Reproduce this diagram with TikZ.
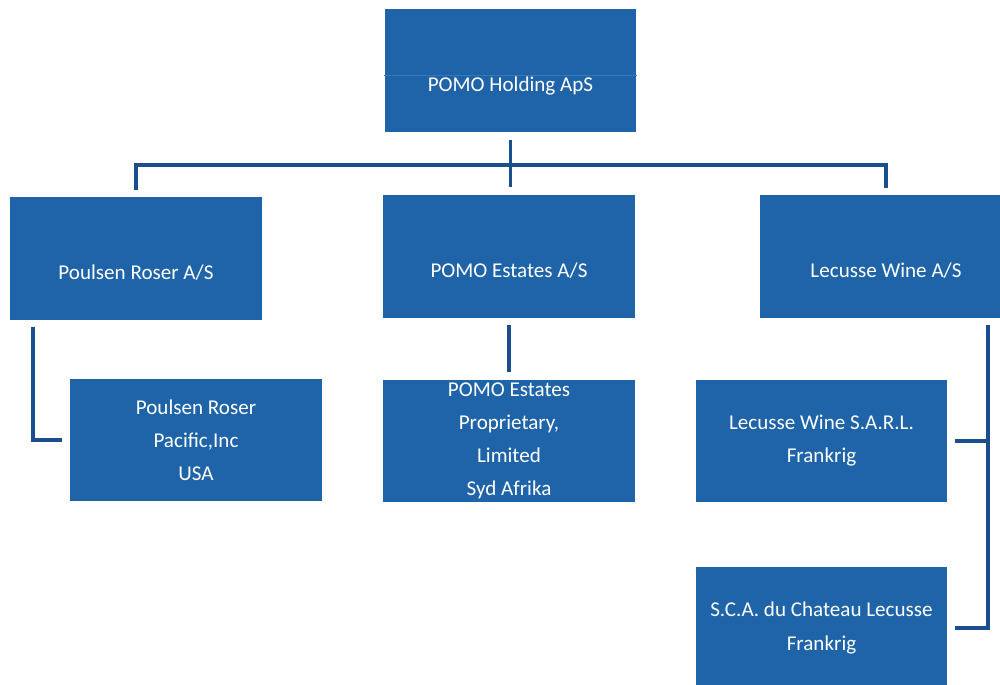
\documentclass[tikz,border=0pt]{standalone}
\usepackage{fontspec}
\setmainfont{Carlito}
\definecolor{theme}{HTML}{1F64A8}
\definecolor{wire}{HTML}{1A4E8E}
\definecolor{seam}{HTML}{3778B6}
\usepackage{tikz}
\usetikzlibrary{calc}
\usetikzlibrary{positioning}

\tikzset{
  unit/.style={rectangle, draw=none, fill=theme, text=white, inner sep=0pt, minimum width=5.04cm, minimum height=2.46cm, font=\fontsize{12}{18.8}\selectfont},
  lowtext/.style={text height=0.84cm, text depth=0pt},
  link/.style={draw=wire, line width=2.2pt}
}

\begin{document}
\begin{tikzpicture}[x=0.02cm, y=-0.02cm]
      \useasboundingbox (0,0) rectangle (1000,685);
      \node[unit, lowtext] (hold) at (510.5,70.5) {POMO Holding ApS};
      \node[unit, lowtext] (poul) at (136,258.5) {Poulsen Roser A/S};
      \node[unit, lowtext] (est) at (509,256.5) {POMO Estates A/S};
      \node[unit, lowtext] (lec) at (886,256.5) {Lecusse Wine A/S};
      \node[unit, align=center] (pac) at (196,440) {Poulsen Roser\\Pacific,Inc\\USA};
      \node[unit, align=center] (prop) at (509,441) {POMO Estates\\Proprietary,\\Limited\\Syd Afrika};
      \node[unit, align=center] (sarl) at (821.5,441) {Lecusse Wine S.A.R.L.\\Frankrig};
      \node[unit, align=center] (sca) at (821.5,628) {S.C.A. du Chateau Lecusse\\Frankrig};
      \draw[seam, line width=0.4pt] ([yshift=-0.09cm]hold.west) -- ([yshift=-0.09cm]hold.east);
      \coordinate (bus) at ([yshift=-0.66cm]hold.south);
      \coordinate (drop) at ([xshift=2.04cm]lec.south);
      \draw[link, shorten <=0.16cm, shorten >=0.16cm] (hold.south) -- (hold.south |- est.north);
      \draw[link, shorten >=0.14cm] (bus) -| (poul.north);
      \draw[link, shorten >=0.14cm] (bus) -| (lec.north);
      \draw[link, shorten <=0.14cm, shorten >=0.16cm] ([xshift=0.46cm]poul.south west) |- (pac.west);
      \draw[link, shorten <=0.14cm, shorten >=0.14cm] (est.south) -- (prop.north);
      \draw[link, shorten <=0.14cm, shorten >=0.14cm] (drop) |- (sca.east);
      \draw[link, shorten <=0.14cm] (sarl.east) -- (sarl.east -| drop);
    \end{tikzpicture}
\end{document}
